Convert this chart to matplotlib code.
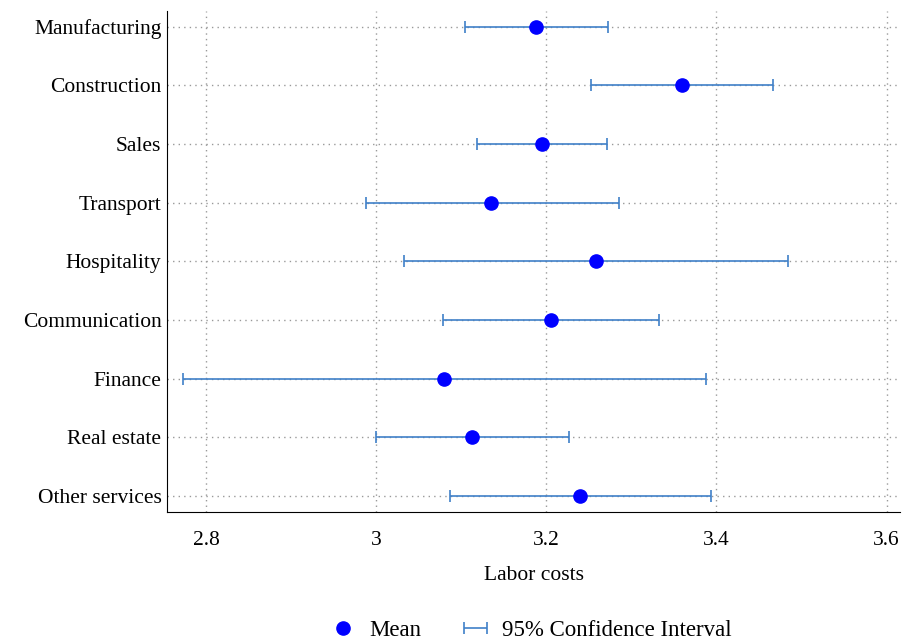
import matplotlib.pyplot as plt
import numpy as np

plt.rcParams['font.family'] = ['Liberation Serif', 'DejaVu Serif']

# data
sectors = ['Manufacturing', 'Construction', 'Sales', 'Transport', 'Hospitality',
           'Communication', 'Finance', 'Real estate', 'Other services']
mean = [3.188, 3.360, 3.195, 3.135, 3.258, 3.205, 3.080, 3.113, 3.240]
ci_low = [3.104, 3.253, 3.119, 2.988, 3.033, 3.079, 2.773, 3.000, 3.087]
ci_high = [3.273, 3.467, 3.271, 3.286, 3.484, 3.332, 3.388, 3.227, 3.394]
xticks = [2.8, 3.0, 3.2, 3.4, 3.6]
xticklabels = ['2.8', '3', '3.2', '3.4', '3.6']

mean = np.array(mean)
lo = mean - np.array(ci_low)
hi = np.array(ci_high) - mean
y = np.arange(len(sectors))

fig = plt.figure(figsize=(9.04, 6.44), dpi=100)
ax = fig.add_axes([0.1847, 0.205, 0.811, 0.778])

ax.grid(True, linestyle=(0, (1, 3)), color='#999999', linewidth=1.0)
ax.set_axisbelow(True)

eb = ax.errorbar(mean, y, xerr=[lo, hi], fmt='none', ecolor='#4080c8',
                 elinewidth=1.2, capsize=4, capthick=1.2,
                 label='95% Confidence Interval')
pts, = ax.plot(mean, y, 'o', color='#0000ff', markersize=9.5, zorder=3,
               label='Mean')

ax.set_yticks(y)
ax.set_yticklabels(sectors, fontsize=15.5)
ax.set_ylim(len(sectors) - 1 + 0.27, -0.27)
ax.set_xticks(xticks)
ax.set_xticklabels(xticklabels, fontsize=15.5)
ax.set_xlim(2.754, 3.616)
ax.tick_params(axis='x', length=0, pad=14)
ax.tick_params(axis='y', length=0, pad=4)
ax.set_xlabel('Labor costs', fontsize=15.5, labelpad=11)

for s in ['top', 'right']:
    ax.spines[s].set_visible(False)

fig.legend([pts, eb], ['Mean', '95% Confidence Interval'], loc='lower center',
           bbox_to_anchor=(0.586, -0.027), ncol=2, frameon=False, fontsize=16.5,
           handlelength=1.3, columnspacing=1.7, handletextpad=0.5)

fig.savefig('out.png', dpi=100)
